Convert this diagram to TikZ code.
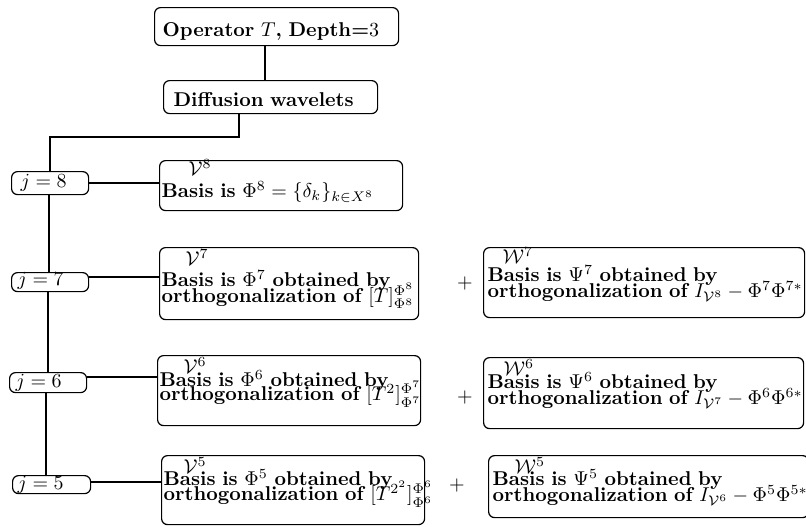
\documentclass[tikz,border=0pt]{standalone}
\newcommand\bxfont{\fontsize{10}{8}\selectfont\bfseries\lineskiplimit-20pt\relax\parindent0pt\relax}
\newcommand\jfont{\fontsize{10}{12}\selectfont\parindent0pt\relax}
\tikzset{
  bx/.style={draw, rounded corners=3pt, line width=0.6pt, anchor=north west,
    inner ysep=0pt, align=left, font=\bxfont},
  jbx/.style={draw, rounded corners=3pt, line width=0.6pt, anchor=north west,
    inner ysep=0pt, align=left, font=\jfont},
  conn/.style={line width=0.6pt},
  plus/.style={font=\fontsize{10}{12}\selectfont, inner sep=0pt}
}
\begin{document}
\begin{tikzpicture}[x=0.5pt, y=-0.5pt]
\useasboundingbox (0,0) rectangle (806,526);
\clip (0,0) rectangle (806,526);
% top
\node[bx, text width=114pt, inner xsep=4pt, text height=14.35pt, text depth=4.65pt] (top) at (154,7) {\mbox{Operator $T$, Depth=$3$}};
\node[bx, text width=97pt, inner xsep=5pt, text height=13pt, text depth=3.5pt] (diff) at (163,80) {\mbox{Diffusion wavelets}};
% j boxes
\node[jbx, text width=29.5pt, inner xsep=4.5pt, text height=8pt, text depth=3.5pt] (j8) at (11,171) {$j=8$};
\node[jbx, text width=32.5pt, inner xsep=3pt, text height=6.5pt, text depth=3pt] (j7) at (11,272) {$j=7$};
\node[jbx, text width=32.5pt, inner xsep=3pt, text height=7.5pt, text depth=2.5pt] (j6) at (9,372) {$j=6$};
\node[jbx, text width=34pt, inner xsep=2.5pt, text height=7pt, text depth=2pt] (j5) at (12,475) {$j=5$};
% V boxes
\node[bx, text width=119.5pt, inner xsep=1pt, text height=7.5pt, text depth=17.5pt] (V8) at (159,160)
  {\hspace*{13.5pt}$\mathcal{V}^8$\\[3pt] \mbox{Basis is $\Phi^8=\{\delta_k\}_{k\in X^8}$}};
\node[bx, text width=127.5pt, inner xsep=1pt, text height=9pt, text depth=27pt] (V7) at (159,247)
  {\hspace*{12pt}$\mathcal{V}^7$\\[2.5pt] \mbox{Basis is $\Phi^7$ obtained by}\\ \mbox{orthogonalization of $[T]^{\Phi^8}_{\Phi^8}$}};
\node[bx, text width=129.5pt, inner xsep=1pt, text height=9pt, text depth=26pt] (V6) at (157,355)
  {\hspace*{12pt}$\mathcal{V}^6$\\[-1.5pt] \mbox{Basis is $\Phi^6$ obtained by}\\[-1pt] \mbox{orthogonalization of $[T^2]^{\Phi^7}_{\Phi^7}$}};
\node[bx, text width=129.5pt, inner xsep=1pt, text height=9pt, text depth=25.5pt] (V5) at (161,455)
  {\hspace*{10pt}$\mathcal{V}^5$\\[-2pt] \mbox{Basis is $\Phi^5$ obtained by}\\[-0.5pt] \mbox{orthogonalization of $[T^{2^2}]^{\Phi^6}_{\Phi^6}$}};
% W boxes
\node[bx, text width=156.5pt, inner xsep=2pt, text height=8pt, text depth=27pt] (W7) at (483,247)
  {\hspace*{7.5pt}$\mathcal{W}^7$\\[1pt] \mbox{Basis is $\Psi^7$ obtained by}\\ \mbox{orthogonalization of $I_{\mathcal{V}^8}-\Phi^7\Phi^{7*}$}};
\node[bx, text width=156pt, inner xsep=2pt, text height=9pt, text depth=26.5pt] (W6) at (483,357)
  {\hspace*{8pt}$\mathcal{W}^6$\\[-1.5pt] \mbox{Basis is $\Psi^6$ obtained by}\\ \mbox{orthogonalization of $I_{\mathcal{V}^7}-\Phi^6\Phi^{6*}$}};
\node[bx, text width=156pt, inner xsep=2pt, text height=9pt, text depth=22pt] (W5) at (488,455)
  {\hspace*{11pt}$\mathcal{W}^5$\\[-2pt] \mbox{Basis is $\Psi^5$ obtained by}\\ \mbox{orthogonalization of $I_{\mathcal{V}^6}-\Phi^5\Phi^{5*}$}};
% plus signs
\node[plus] (p7) at (465,283) {$+$};
\node[plus] (p6) at (465,397) {$+$};
\node[plus] (p5) at (457,485) {$+$};
% connector coordinates
\coordinate (c1) at (265,0);
\coordinate (c2) at (239,0);
\coordinate (tr) at (50,137);
\coordinate (t7) at (49,0);
\coordinate (t6) at (48,0);
\coordinate (t5) at (46,0);
\coordinate (h8) at (0,183);
\coordinate (h7) at (0,277);
\coordinate (h6) at (0,377);
\coordinate (h5) at (0,482);
% connectors
\draw[conn] (top.south -| c1) -- (diff.north -| c1);
\draw[conn] (diff.south -| c2) |- (tr) -- (j8.north -| tr);
\draw[conn] (j8.south -| t7) -- (j7.north -| t7);
\draw[conn] (j7.south -| t6) -- (j6.north -| t6);
\draw[conn] (j6.south -| t5) -- (j5.north -| t5);
\draw[conn] (j8.east |- h8) -- (V8.west |- h8);
\draw[conn] (j7.east |- h7) -- (V7.west |- h7);
\draw[conn] (j6.east |- h6) -- (V6.west |- h6);
\draw[conn] (j5.east |- h5) -- (V5.west |- h5);
\end{tikzpicture}
\end{document}
